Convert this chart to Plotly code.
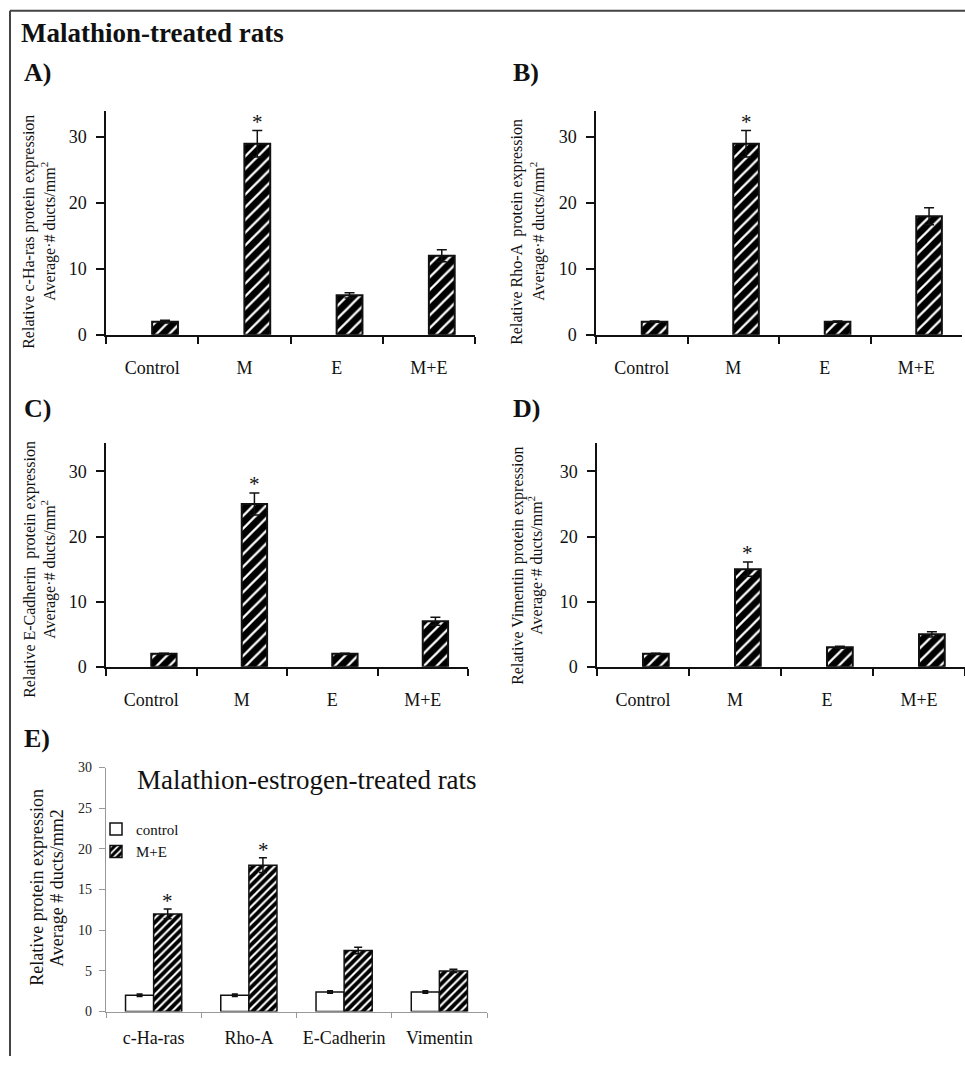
import plotly.graph_objects as go

W, H = 965, 1066

categories = ["Control", "M", "E", "M+E"]
a_vals = [2, 29, 6, 12]
a_err = [0.2, 2.0, 0.4, 0.9]
b_vals = [2, 29, 2, 18]
b_err = [0.1, 2.0, 0.1, 1.3]
c_vals = [2, 25, 2, 7]
c_err = [0.1, 1.7, 0.1, 0.6]
d_vals = [2, 15, 3, 5]
d_err = [0.1, 1.1, 0.15, 0.4]
star_cat = "M"

e_cats = ["c-Ha-ras", "Rho-A", "E-Cadherin", "Vimentin"]
e_control = [2, 2, 2.4, 2.4]
e_control_err = [0.1, 0.1, 0.1, 0.1]
e_me = [12, 18, 7.5, 5]
e_me_err = [0.6, 0.9, 0.4, 0.2]
e_star_cats = ["c-Ha-ras", "Rho-A"]

FONT = "Liberation Serif, Times New Roman, serif"


def fx(px):
    return px / W


def fy(py):
    # compensates for the slight vertical offset/scale observed in the page capture
    y = (py - 7.2) / 0.984
    return min(1.0, max(0.0, 1 - y / H))


fig = go.Figure()

panels = [
    ("A", a_vals, a_err, (106, 475), (111, 335), 34.0,
     "Relative c-Ha-ras protein expression", (29, 49, 232)),
    ("B", b_vals, b_err, (596, 962), (111, 335), 34.0,
     "Relative Rho-A  protein expression", (517, 538, 232)),
    ("C", c_vals, c_err, (106, 468), (443, 667), 34.4,
     "Relative E-Cadherin  protein expression", (30, 49, 570)),
    ("D", d_vals, d_err, (597, 965), (443, 667), 34.4,
     "Relative Vimentin protein expression", (518, 536, 566)),
]

BAR_W = 0.28
annotations = []
for i, (name, vals, err, (x0, x1), (ytop, yzero), ymax, ytitle, (tx1, tx2, ty)) in enumerate(panels):
    ax = "" if i == 0 else str(i + 1)
    fig.add_trace(go.Bar(
        x=categories, y=vals,
        xaxis="x" + ax, yaxis="y" + ax,
        offset=0, width=BAR_W,
        marker=dict(color="white",
                    line=dict(color="#111", width=2),
                    pattern=dict(shape="/", size=9, solidity=0.75,
                                 fgcolor="#000", fgopacity=1, bgcolor="white")),
        error_y=dict(type="data", array=err, color="#111",
                     thickness=1.5, width=5),
        showlegend=False,
    ))
    xa = dict(domain=[fx(x0), fx(x1)], anchor="y" + ax,
              type="category", categoryorder="array", categoryarray=categories,
              range=[-0.5, 3.5], tickson="boundaries",
              ticks="outside", ticklen=7, tickwidth=1.5, tickcolor="#111",
              showline=True, linecolor="#111", linewidth=1.5,
              showgrid=False, zeroline=False,
              tickfont=dict(family=FONT, size=18, color="#111"),
              ticklabelstandoff=16, fixedrange=True)
    ya = dict(domain=[fy(yzero), fy(ytop)], anchor="x" + ax,
              range=[0, ymax], tickvals=[0, 10, 20, 30],
              ticks="outside", ticklen=8, tickwidth=1.5, tickcolor="#111",
              showline=True, linecolor="#111", linewidth=1.5,
              showgrid=False, zeroline=False,
              tickfont=dict(family=FONT, size=18, color="#111"),
              ticklabelstandoff=6, fixedrange=True)
    fig.update_layout(**{"xaxis" + ax: xa, "yaxis" + ax: ya})
    k = categories.index(star_cat)
    annotations.append(dict(
        x=k + BAR_W / 2, y=vals[k] + err[k], xref="x" + ax, yref="y" + ax,
        text="*", showarrow=False, yanchor="bottom", yshift=-5,
        font=dict(family=FONT, size=21, color="#111")))
    annotations.append(dict(
        x=fx(tx1), y=fy(ty), xref="paper", yref="paper", textangle=-90,
        text=ytitle, showarrow=False, xanchor="center", yanchor="middle",
        font=dict(family=FONT, size=16, color="#111")))
    annotations.append(dict(
        x=fx(tx2), y=fy(ty), xref="paper", yref="paper", textangle=-90,
        text="Average·# ducts/mm<sup>2</sup>", showarrow=False,
        xanchor="center", yanchor="middle",
        font=dict(family=FONT, size=16, color="#111")))

# Panel E
fig.add_trace(go.Bar(
    x=e_cats, y=e_control, name="control",
    xaxis="x5", yaxis="y5", legendgroup="a",
    marker=dict(color="white", line=dict(color="#111", width=1.5)),
    error_y=dict(type="data", array=e_control_err, color="#111",
                 thickness=2.5, width=3),
))
fig.add_trace(go.Bar(
    x=e_cats, y=e_me, name="M+E",
    xaxis="x5", yaxis="y5", legendgroup="b",
    marker=dict(color="white", line=dict(color="#111", width=1.5),
                pattern=dict(shape="/", size=6, solidity=0.65,
                             fgcolor="#000", fgopacity=1, bgcolor="white")),
    error_y=dict(type="data", array=e_me_err, color="#111",
                 thickness=1.5, width=4),
))
fig.update_layout(
    xaxis5=dict(domain=[fx(106), fx(487)], anchor="y5",
                type="category", categoryorder="array", categoryarray=e_cats,
                range=[-0.5, 3.5], tickson="boundaries",
                ticks="outside", ticklen=5, tickwidth=1, tickcolor="#999",
                showline=True, linecolor="#999", linewidth=1.2,
                showgrid=False, zeroline=False,
                tickfont=dict(family=FONT, size=18, color="#111"),
                ticklabelstandoff=10, fixedrange=True),
    yaxis5=dict(domain=[fy(1011.7), fy(767.7)], anchor="x5",
                range=[0, 30], tickvals=[0, 5, 10, 15, 20, 25, 30],
                ticks="outside", ticklen=6, tickwidth=1, tickcolor="#999",
                showline=True, linecolor="#999", linewidth=1.2,
                showgrid=False, zeroline=False,
                tickfont=dict(family=FONT, size=14, color="#222"),
                ticklabelstandoff=4, fixedrange=True),
    barmode="group", bargap=0.41, bargroupgap=0,
)
for c in e_star_cats:
    k = e_cats.index(c)
    annotations.append(dict(
        x=k + 0.15, y=e_me[k] + e_me_err[k], xref="x5", yref="y5",
        text="*", showarrow=False, yanchor="bottom", yshift=-6,
        font=dict(family=FONT, size=21, color="#111")))
annotations.append(dict(
    x=fx(307), y=fy(780), xref="paper", yref="paper",
    text="Malathion-estrogen-treated rats", showarrow=False,
    xanchor="center", yanchor="middle",
    font=dict(family=FONT, size=27, color="#111")))
annotations.append(dict(
    x=fx(37), y=fy(888), xref="paper", yref="paper", textangle=-90,
    text="Relative protein expression", showarrow=False,
    xanchor="center", yanchor="middle",
    font=dict(family=FONT, size=18, color="#111")))
annotations.append(dict(
    x=fx(57), y=fy(888), xref="paper", yref="paper", textangle=-90,
    text="Average # ducts/mm2", showarrow=False,
    xanchor="center", yanchor="middle",
    font=dict(family=FONT, size=18, color="#111")))

annotations.append(dict(
    x=fx(19), y=fy(33), xref="paper", yref="paper",
    text="<b>Malathion-treated rats</b>", showarrow=False,
    xanchor="left", yanchor="middle",
    font=dict(family=FONT, size=27, color="#111")))
for letter, px, py in [("A)", 22, 73), ("B)", 511, 73), ("C)", 22, 409),
                       ("D)", 511, 409), ("E)", 22, 739)]:
    annotations.append(dict(
        x=fx(px), y=fy(py), xref="paper", yref="paper",
        text="<b>" + letter + "</b>", showarrow=False,
        xanchor="left", yanchor="middle",
        font=dict(family=FONT, size=26, color="#111")))

shapes = [
    dict(type="line", xref="paper", yref="paper", x0=fx(10), x1=1, y0=fy(11), y1=fy(11),
         line=dict(color="#444", width=2)),
    dict(type="line", xref="paper", yref="paper", x0=fx(10), x1=fx(10), y0=fy(11), y1=0,
         line=dict(color="#444", width=2)),
]

fig.update_layout(
    width=W, height=H, margin=dict(l=0, r=0, t=0, b=0),
    paper_bgcolor="white", plot_bgcolor="white",
    annotations=annotations, shapes=shapes,
    showlegend=True,
    legend=dict(x=fx(96), y=fy(813), xanchor="left", yanchor="top",
                bgcolor="rgba(0,0,0,0)", tracegroupgap=10,
                font=dict(family=FONT, size=15, color="#111"),
                itemwidth=30, traceorder="normal"),
    font=dict(family=FONT),
)

fig.write_html("out.html")
